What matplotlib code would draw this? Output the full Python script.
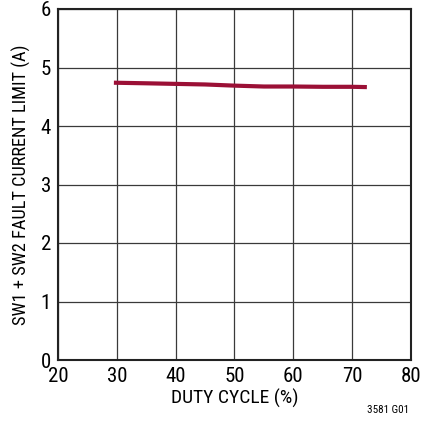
import matplotlib
matplotlib.use("Agg")
import matplotlib.pyplot as plt
from matplotlib import font_manager

duty = [29.5, 35, 40, 45, 50, 55, 60, 65, 70, 72.5]
ilim = [4.74, 4.73, 4.72, 4.71, 4.69, 4.675, 4.675, 4.67, 4.67, 4.665]
xticks = [20, 30, 40, 50, 60, 70, 80]
yticks = [0, 1, 2, 3, 4, 5, 6]

names = {f.name for f in font_manager.fontManager.ttflist}
fam = next((n for n in ['Liberation Sans Narrow', 'Roboto Condensed', 'Arial Narrow', 'Liberation Sans'] if n in names), 'DejaVu Sans')
plt.rcParams['font.family'] = [fam, 'DejaVu Sans']
fig = plt.figure(figsize=(4.21, 4.33), dpi=100)
ax = fig.add_axes([58/421, 1-360/433, (411-58)/421, (360-9)/433])
ax.plot(duty, ilim, color='#9b1036', lw=3, solid_capstyle='butt')
ax.set_xlim(20, 80)
ax.set_ylim(0, 6)
ax.set_xticks(xticks)
ax.set_yticks(yticks)
ax.grid(True, color='#3a3a3a', lw=0.9)
ax.set_axisbelow(True)
for s in ax.spines.values():
    s.set_linewidth(1.5)
    s.set_color('#222222')
ax.tick_params(length=0, labelsize=15, pad=5)
ax.set_xlabel('DUTY CYCLE (%)', fontsize=14, labelpad=2)
ax.set_ylabel('SW1 + SW2 FAULT CURRENT LIMIT (A)', fontsize=13.2, labelpad=7)
fig.text(409/421, 1-410/433, '3581 G01', fontsize=8, ha='right', va='center')
fig.savefig('out.png', dpi=100)
